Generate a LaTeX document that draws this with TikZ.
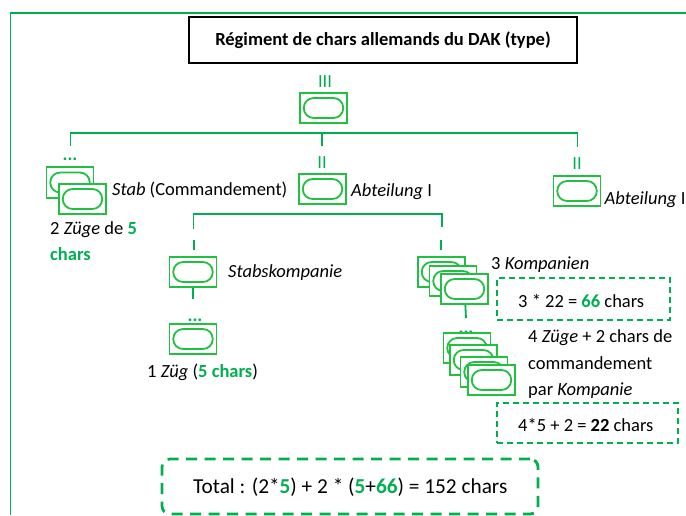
\documentclass[tikz,border=0pt]{standalone}
\usepackage{fontspec}
\setmainfont{Carlito}
\definecolor{gr}{HTML}{00B050}
\definecolor{lg}{HTML}{22C040}
\tikzset{
  unitbox/.style={draw=lg,line width=1.9pt,fill=white,minimum width=47pt,minimum height=30.5pt,inner sep=0pt},
  ovalshape/.style={draw=lg,line width=1.8pt,rounded corners=9.9pt,minimum width=39.5pt,minimum height=20pt,inner sep=0pt},
  conn/.style={draw=gr,line width=1.8pt},
  txt/.style={anchor=base west,inner sep=0pt,yshift=-1pt,font=\fontsize{18.5}{22}\selectfont,text=black},
  sym/.style={anchor=base,inner sep=0pt,font=\fontsize{18.5}{22}\selectfont,text=gr},
  dbox/.style={draw=gr,line width=1.7pt,dash pattern=on 6pt off 4pt,inner sep=0pt},
}
\newcommand{\armyunit}[2]{\node[unitbox] (#1) at (#2) {};\node[ovalshape] (#1o) at (#1) {};}
\newcommand{\gb}[1]{\textcolor{gr}{\textbf{#1}}}
\begin{document}
\begin{tikzpicture}[x=1pt,y=-1pt]
\useasboundingbox (0,0) rectangle (686,515);
\begin{scope}
\clip (0,0) rectangle (686,515);
% frame
\coordinate (fa) at (10.5,515);
\coordinate (fb) at (10.5,13);
\coordinate (fc) at (686,13);
\draw[gr,line width=1.9pt] (fa) -- (fb) -- (fc);
% title
\node[draw=black,line width=2pt,minimum width=388pt,minimum height=46pt,inner sep=0pt,font=\fontsize{18.5}{22}\selectfont\bfseries] (title) at (383,40) {\raisebox{-1.2pt}{Régiment de chars allemands du DAK (type)}};
% regiment
\node[sym] (s3) at (325,87) {III};
\armyunit{reg}{323.5,108}
% first tree
\coordinate (h1l) at (70.5,133);
\coordinate (h1m) at (322,133);
\coordinate (h1r) at (577.5,133);
\coordinate (d1l) at (70.5,146);
\coordinate (d1m) at (322,146);
\coordinate (d1r) at (577.5,147);
\draw[conn] (d1l) -- (h1l) -- (h1r) -- (d1r);
\draw[conn] (h1m) -- (d1m);
\node[sym] (dots1) at (70,160) {\textbf{...}};
\armyunit{stabA}{70,182.5}
\armyunit{stabB}{82.5,199}
\node[txt] (stabT) at (112,194.5) {\textit{Stab} (Commandement)};
\node[sym] (s2a) at (322,168.5) {II};
\armyunit{abtA}{322.5,189}
\node[txt] (abtAT) at (351,195.5) {\textit{Abteilung} I};
\node[sym] (s2b) at (577,169) {II};
\armyunit{abtB}{577,191}
\node[txt] (abtBT) at (604.5,203) {\textit{Abteilung} I};
\node[txt] (zA) at (50,233) {2 \textit{Züge} de \gb{5}};
\node[txt] (zB) at (50,259) {\gb{chars}};
% second tree
\coordinate (h2l) at (193.5,214);
\coordinate (h2r) at (442,214);
\coordinate (d2l) at (193.5,229);
\coordinate (d2r) at (442,227);
\draw[conn] (d2l) -- (h2l) -- (h2r) -- (d2r);
\coordinate (i1a) at (194,240);
\coordinate (i1b) at (194,250);
\coordinate (i2a) at (441,240);
\coordinate (i2b) at (441,250);
\draw[conn] (i1a) -- (i1b);
\draw[conn] (i2a) -- (i2b);
% Stabskompanie
\armyunit{sk}{193,272}
\node[txt] (skT) at (228,276) {\textit{Stabskompanie}};
\coordinate (skd) at (193,299);
\draw[conn] (sk) -- (skd);
\node[sym] (dots2) at (195,321) {\textbf{...}};
\armyunit{zg}{193,339}
\node[txt] (zgT) at (147,376) {1 \textit{Züg} (\gb{5 chars})};
% Kompanien
\armyunit{kA}{441.5,272}
\armyunit{kB}{453,281}
\armyunit{kC}{464.5,289}
\node[txt] (kT) at (491,268) {3 \textit{Kompanien}};
\coordinate (kd) at (466,318);
\draw[conn] (kC) -- (kd);
\node[sym] (dots3) at (466,333) {\textbf{...}};
\armyunit{pA}{467,348}
\armyunit{pB}{473.5,360}
\armyunit{pC}{484,372}
\armyunit{pD}{491.5,380}
\node[dbox,minimum width=173pt,minimum height=42pt] (b1) at (583.5,299) {};
\node[txt] (b1T) at (518,306) {3 * 22 = \gb{66} chars};
\node[txt] (l1) at (528,341) {4 \textit{Züge} + 2 chars de};
\node[txt] (l2) at (528,368) {commandement};
\node[txt] (l3) at (528,394) {par \textit{Kompanie}};
\node[dbox,minimum width=181pt,minimum height=40pt] (b2) at (587.5,423) {};
\node[txt] (b2T) at (518,430) {4*5 + 2 = \textbf{22} chars};
% total
\node[draw=gr,line width=2.8pt,dash pattern=on 11pt off 7.5pt,rounded corners=8pt,minimum width=376pt,minimum height=55pt,inner sep=0pt] (tot) at (350,486.5) {};
\node[txt,font=\fontsize{21.3}{25}\selectfont] (totT) at (193,492) {Total : (2*\textcolor{gr}{\textbf{5}}) + 2 * (\textcolor{gr}{\textbf{5}}+\textcolor{gr}{\textbf{66}}) = 152 chars};
\end{scope}
\end{tikzpicture}
\end{document}
